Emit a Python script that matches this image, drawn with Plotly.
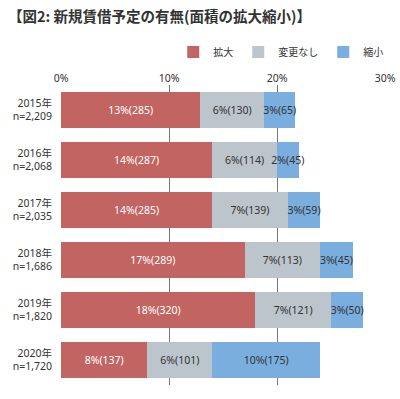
import plotly.graph_objects as go

years = ["2015年<br>n=2,209", "2016年<br>n=2,068", "2017年<br>n=2,035",
         "2018年<br>n=1,686", "2019年<br>n=1,820", "2020年<br>n=1,720"]
expand_pct = [12.9, 14, 14, 17, 18, 8]
same_pct = [5.9, 6, 7, 7, 7, 6]
shrink_pct = [2.9, 2, 3, 3, 3, 10]
expand_lbl = ["13%(285)", "14%(287)", "14%(285)", "17%(289)", "18%(320)", "8%(137)"]
same_lbl = ["6%(130)", "6%(114)", "7%(139)", "7%(113)", "7%(121)", "6%(101)"]
shrink_lbl = ["3%(65)", "2%(45)", "3%(59)", "3%(45)", "3%(50)", "10%(175)"]
x_ticks = [0, 10, 20, 30]
x_ticktext = ["0%", "10%", "20%", "30%"]

FONT = "Noto Sans, Noto Sans CJK JP"
series = [
    ("拡大", expand_pct, expand_lbl, "#C26462", "#FFFFFF"),
    ("変更なし", same_pct, same_lbl, "#BCC5CC", "#333333"),
    ("縮小", shrink_pct, shrink_lbl, "#7AAEDE", "#333333"),
]

fig = go.Figure()
for name, vals, lbls, color, tcolor in series:
    fig.add_trace(go.Bar(
        name=name, y=years, x=vals, orientation="h",
        marker=dict(color=color, line=dict(width=0)),
        text=lbls, textposition="inside", insidetextanchor="middle",
        textangle=0, constraintext="none",
        textfont=dict(family=FONT, size=10.5, color=tcolor),
        hoverinfo="skip",
    ))

fig.update_layout(
    width=400, height=399,
    barmode="stack", bargap=0.28,
    margin=dict(l=61, r=15, t=85, b=14, autoexpand=False),
    paper_bgcolor="white", plot_bgcolor="white",
    font=dict(family=FONT, size=11, color="#333333"),
    title=dict(text="<b>【図2: 新規賃借予定の有無(面積の拡大縮小)】</b>",
               x=8/400, xref="container", xanchor="left", y=1 - 17/399, yanchor="middle",
               font=dict(family="Noto Sans CJK JP", size=14.5, color="#333333")),
    legend=dict(orientation="h", x=1.01, xanchor="right", y=1 + 33/300, yanchor="middle",
                font=dict(family=FONT, size=10, color="#333333"),
                itemwidth=30, traceorder="normal"),
    xaxis=dict(range=[0, 30], side="top", tickvals=x_ticks, ticktext=x_ticktext,
               showgrid=True, gridcolor="#777777", gridwidth=1, zeroline=False,
               showline=False, ticks="", automargin=False,
               tickfont=dict(size=10.5, color="#333333")),
    yaxis=dict(autorange="reversed", showgrid=False, showline=False, ticks="",
               automargin=False, ticklabelstandoff=8,
               tickfont=dict(size=10.5, color="#333333")),
)
fig.write_html("out.html", config={"displayModeBar": False},
               post_script="document.body.style.margin='0';document.body.style.overflow='hidden';")
